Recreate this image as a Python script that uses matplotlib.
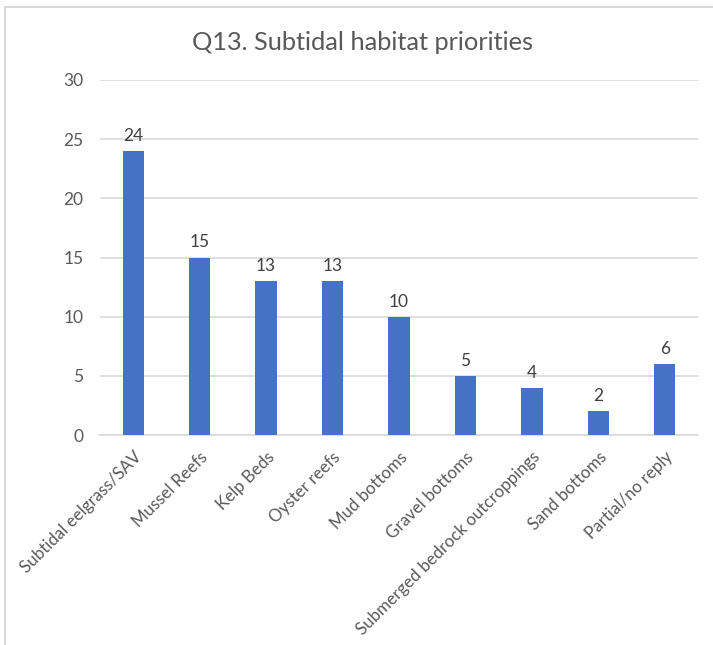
import matplotlib
matplotlib.use("Agg")
import matplotlib.pyplot as plt
from matplotlib.patches import Rectangle

categories = [
    "Subtidal eelgrass/SAV",
    "Mussel Reefs",
    "Kelp Beds",
    "Oyster reefs",
    "Mud bottoms",
    "Gravel bottoms",
    "Submerged bedrock outcroppings",
    "Sand bottoms",
    "Partial/no reply",
]
counts = [24, 15, 13, 13, 10, 5, 4, 2, 6]
y_ticks = [0, 5, 10, 15, 20, 25, 30]

plt.rcParams["font.family"] = ["Lato", "DejaVu Sans"]

W, H = 713, 645
fig = plt.figure(figsize=(W / 100, H / 100), dpi=100)

# chart-area frame
fig.patches.append(Rectangle((5 / W, -0.05), 1.2, 1 - 7 / H + 0.05,
                             transform=fig.transFigure, fill=False,
                             edgecolor="#d9d9d9", linewidth=1.5))

ax = fig.add_axes([100 / W, 1 - 435 / H, (698 - 100) / W, (435 - 80) / H])

x = range(len(categories))
ax.bar(x, counts, width=0.32, color="#4472C4", zorder=3)
for xi, v in zip(x, counts):
    ax.text(xi, v + 0.6, str(v), ha="center", va="bottom",
            fontsize=12.5, color="#404040")

ax.set_xlim(-0.5, len(categories) - 0.5)
ax.set_ylim(0, 30)
ax.set_yticks(y_ticks)
ax.set_yticklabels([str(t) for t in y_ticks], fontsize=12.5, color="#595959")
ax.yaxis.grid(True, color="#d9d9d9", linewidth=1.2, zorder=0)
ax.set_axisbelow(True)
ax.tick_params(axis="both", length=0)
ax.tick_params(axis="y", pad=12)
ax.set_xticks(list(x))
ax.set_xticklabels(categories, rotation=45, ha="right", rotation_mode="anchor",
                   fontsize=12.2, color="#595959")
ax.tick_params(axis="x", pad=10)
for s in ["top", "right", "left"]:
    ax.spines[s].set_visible(False)
ax.spines["bottom"].set_color("#d9d9d9")
ax.spines["bottom"].set_linewidth(1.2)

fig.text(363 / W, 1 - 42 / H, "Q13. Subtidal habitat priorities",
         ha="center", va="center", fontsize=18.3, color="#595959")

fig.savefig("out.png", dpi=100, facecolor="white")
